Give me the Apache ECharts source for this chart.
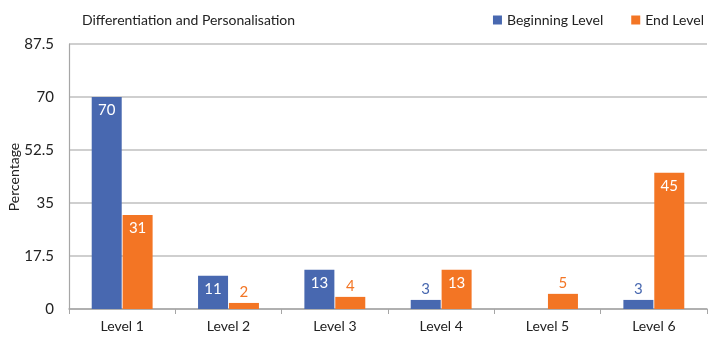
<!DOCTYPE html>
<html>
<head>
<meta charset="utf-8">
<script src="https://cdn.jsdelivr.net/npm/echarts@6/dist/echarts.min.js"></script>
<style>
  html, body { margin: 0; padding: 0; background: #fff; }
  #chart { width: 709px; height: 338px; }
</style>
</head>
<body>
<div id="chart"></div>
<script>
// Level categories and percentages per group
const categories = ['Level 1', 'Level 2', 'Level 3', 'Level 4', 'Level 5', 'Level 6'];
const beginningLevel = [70, 11, 13, 3, null, 3];
const endLevel = [31, 2, 4, 13, 5, 45];
const yTicks = [0, 17.5, 35, 52.5, 70, 87.5];
const yAxisTitle = 'Percentage';

const FONT = 'Lato';
const BLUE = '#4868b0';
const ORANGE = '#f37524';

// Large bars carry their value inside in white; short bars show it above in the series colour
function withLabels(values, color) {
  return values.map(v => {
    if (v == null) return null;
    const inside = v >= 10;
    return {
      value: v,
      label: {
        show: true,
        position: inside ? 'insideTop' : 'top',
        distance: inside ? 6 : 3,
        color: inside ? '#ffffff' : color,
        fontSize: 15,
        fontFamily: FONT
      }
    };
  });
}

const chart = echarts.init(document.getElementById('chart'));
chart.setOption({
  animation: false,
  textStyle: { fontFamily: FONT },
  title: {
    text: 'Differentiation and Personalisation',
    left: 77, top: 8,
    textStyle: { fontSize: 14, fontWeight: 'normal', color: '#222', fontFamily: FONT }
  },
  legend: {
    right: 0, top: 8,
    itemWidth: 9, itemHeight: 9, itemGap: 28,
    icon: 'rect',
    textStyle: { fontSize: 14, color: '#222', fontFamily: FONT },
    data: ['Beginning Level', 'End Level']
  },
  // Vertical y-axis title placed beside the tick labels
  graphic: [{
    type: 'text',
    x: 14, y: 177,
    rotation: Math.PI / 2,
    style: {
      text: yAxisTitle,
      fontSize: 14,
      fontFamily: FONT,
      fill: '#222',
      align: 'center',
      verticalAlign: 'middle'
    }
  }],
  grid: { left: 69, right: 2, top: 44, bottom: 29, containLabel: false, outerBoundsMode: 'none' },
  xAxis: {
    type: 'category',
    data: categories,
    axisLine: { lineStyle: { color: '#a6a6a6', width: 1.5 } },
    axisTick: { show: true, length: 5, lineStyle: { color: '#a6a6a6' } },
    axisLabel: { fontSize: 14, color: '#222', margin: 10, fontFamily: FONT }
  },
  yAxis: {
    type: 'value',
    min: yTicks[0],
    max: yTicks[yTicks.length - 1],
    interval: yTicks[1] - yTicks[0],
    axisLine: { show: true, lineStyle: { color: '#a6a6a6', width: 1.2 } },
    axisTick: { show: false },
    axisLabel: { fontSize: 15, color: '#222', margin: 15, fontFamily: FONT },
    splitLine: { lineStyle: { color: '#bfbfbf', width: 1.5 } }
  },
  series: [
    {
      name: 'Beginning Level',
      type: 'bar',
      data: withLabels(beginningLevel, BLUE),
      itemStyle: { color: BLUE },
      barWidth: 30,
      barGap: '3%'
    },
    {
      name: 'End Level',
      type: 'bar',
      data: withLabels(endLevel, ORANGE),
      itemStyle: { color: ORANGE },
      barWidth: 30,
      barGap: '3%'
    }
  ]
});
</script>
</body>
</html>
